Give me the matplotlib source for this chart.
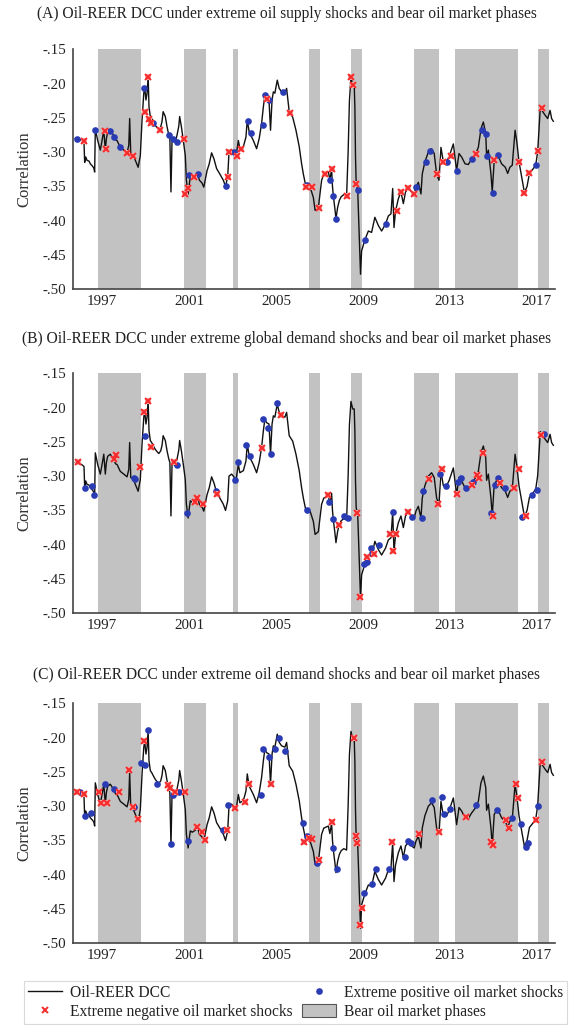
import matplotlib
matplotlib.use("Agg")
import matplotlib.pyplot as plt
from matplotlib.lines import Line2D
from matplotlib.patches import Patch

plt.rcParams['font.family'] = ['Liberation Serif', 'DejaVu Serif']

# ---------------- data ----------------
dcc_year = [
    1995.77, 1996.00, 1996.10, 1996.17, 1996.20, 1996.25, 1996.31, 1996.40, 1996.46, 1996.55,
    1996.62, 1996.66, 1996.69, 1996.75, 1996.80, 1996.92, 1997.00, 1997.08, 1997.12, 1997.15,
    1997.20, 1997.26, 1997.38, 1997.46, 1997.54, 1997.62, 1997.69, 1997.84, 1998.00, 1998.15,
    1998.23, 1998.27, 1998.32, 1998.43, 1998.53, 1998.66, 1998.76, 1998.84, 1998.92, 1998.96,
    1999.02, 1999.07, 1999.12, 1999.16, 1999.22, 1999.30, 1999.38, 1999.45, 1999.55, 1999.61,
    1999.70, 1999.76, 1999.81, 1999.91, 1999.99, 2000.07, 2000.12, 2000.17, 2000.22, 2000.30,
    2000.37, 2000.45, 2000.53, 2000.57, 2000.65, 2000.73, 2000.83, 2000.88, 2000.96, 2001.00,
    2001.06, 2001.15, 2001.25, 2001.40, 2001.48, 2001.60, 2001.68, 2001.75, 2001.83, 2001.93,
    2002.04, 2002.15, 2002.27, 2002.42, 2002.58, 2002.68, 2002.78, 2002.84, 2002.96, 2003.04,
    2003.16, 2003.27, 2003.34, 2003.50, 2003.62, 2003.68, 2003.77, 2003.96, 2004.11, 2004.23,
    2004.34, 2004.42, 2004.49, 2004.57, 2004.68, 2004.75, 2004.82, 2004.88, 2004.95, 2005.06,
    2005.15, 2005.26, 2005.41, 2005.49, 2005.61, 2005.77, 2005.92, 2006.07, 2006.18, 2006.26,
    2006.37, 2006.57, 2006.72, 2006.80, 2006.95, 2007.10, 2007.20, 2007.41, 2007.48, 2007.56,
    2007.60, 2007.64, 2007.72, 2007.76, 2007.84, 2007.92, 2008.00, 2008.12, 2008.25, 2008.32,
    2008.38, 2008.45, 2008.53, 2008.60, 2008.63, 2008.66, 2008.69, 2008.76, 2008.82, 2008.86,
    2008.89, 2008.94, 2009.09, 2009.25, 2009.40, 2009.55, 2009.71, 2009.86, 2010.04, 2010.17,
    2010.29, 2010.37, 2010.43, 2010.50, 2010.63, 2010.75, 2010.86, 2010.96, 2011.09, 2011.24,
    2011.36, 2011.44, 2011.55, 2011.67, 2011.73, 2011.85, 2012.01, 2012.16, 2012.28, 2012.39,
    2012.50, 2012.59, 2012.70, 2012.85, 2012.97, 2013.16, 2013.31, 2013.42, 2013.54, 2013.70,
    2013.85, 2014.00, 2014.19, 2014.31, 2014.43, 2014.54, 2014.65, 2014.69, 2014.77, 2014.89,
    2014.95, 2015.04, 2015.20, 2015.38, 2015.55, 2015.66, 2015.76, 2015.87, 2016.00, 2016.08,
    2016.18, 2016.30, 2016.43, 2016.55, 2016.66, 2016.79, 2016.95, 2017.04, 2017.10, 2017.16,
    2017.25, 2017.38, 2017.50, 2017.61, 2017.68, 2017.76]
dcc_value = [
    -0.280, -0.282, -0.284, -0.286, -0.315, -0.307, -0.312, -0.313, -0.317, -0.320,
    -0.323, -0.329, -0.266, -0.275, -0.283, -0.297, -0.283, -0.268, -0.285, -0.297,
    -0.280, -0.271, -0.268, -0.272, -0.276, -0.282, -0.283, -0.293, -0.297, -0.301,
    -0.290, -0.251, -0.302, -0.304, -0.312, -0.322, -0.305, -0.253, -0.214, -0.205,
    -0.224, -0.214, -0.190, -0.234, -0.248, -0.252, -0.257, -0.261, -0.265, -0.267,
    -0.263, -0.255, -0.241, -0.248, -0.263, -0.275, -0.280, -0.358, -0.281, -0.283,
    -0.285, -0.275, -0.262, -0.248, -0.263, -0.281, -0.305, -0.341, -0.361, -0.350,
    -0.336, -0.338, -0.336, -0.332, -0.341, -0.345, -0.351, -0.340, -0.327, -0.317,
    -0.301, -0.310, -0.324, -0.332, -0.341, -0.350, -0.336, -0.300, -0.297, -0.300,
    -0.306, -0.283, -0.295, -0.292, -0.278, -0.253, -0.271, -0.283, -0.295, -0.280,
    -0.258, -0.234, -0.217, -0.222, -0.224, -0.268, -0.224, -0.212, -0.214, -0.195,
    -0.207, -0.212, -0.214, -0.207, -0.241, -0.249, -0.268, -0.292, -0.317, -0.332,
    -0.349, -0.351, -0.366, -0.385, -0.381, -0.341, -0.332, -0.329, -0.340, -0.325,
    -0.350, -0.364, -0.385, -0.397, -0.380, -0.370, -0.365, -0.362, -0.364, -0.300,
    -0.225, -0.191, -0.202, -0.202, -0.234, -0.307, -0.346, -0.355, -0.410, -0.449,
    -0.478, -0.444, -0.428, -0.415, -0.417, -0.395, -0.407, -0.415, -0.405, -0.393,
    -0.390, -0.353, -0.410, -0.386, -0.368, -0.358, -0.375, -0.358, -0.353, -0.358,
    -0.361, -0.351, -0.344, -0.361, -0.332, -0.314, -0.300, -0.295, -0.302, -0.332,
    -0.341, -0.293, -0.314, -0.314, -0.306, -0.288, -0.327, -0.302, -0.307, -0.317,
    -0.318, -0.310, -0.302, -0.293, -0.266, -0.256, -0.273, -0.306, -0.297, -0.332,
    -0.358, -0.312, -0.304, -0.317, -0.322, -0.331, -0.322, -0.319, -0.268, -0.285,
    -0.314, -0.336, -0.359, -0.350, -0.331, -0.326, -0.319, -0.299, -0.268, -0.235,
    -0.240, -0.246, -0.251, -0.239, -0.251, -0.255]

bear_start = [1996.82, 2000.79, 2003.04, 2006.50, 2008.47, 2011.37, 2013.22, 2017.06]
bear_end = [1998.81, 2001.77, 2003.24, 2007.02, 2008.94, 2012.51, 2016.15, 2017.55]

# Panel A: extreme oil supply shocks
posA_x = [1995.87, 1996.69, 1997.38, 1997.57, 1997.82, 1998.92, 1999.35, 2000.07, 2000.27, 2000.45,
          2000.99, 2001.40, 2002.68, 2003.06, 2003.70, 2003.87, 2004.39, 2004.51, 2004.67, 2005.31,
          2006.41, 2007.48, 2007.64, 2007.76, 2008.76, 2009.09, 2010.04, 2011.44, 2011.88, 2012.08,
          2012.85, 2013.31, 2014.00, 2014.49, 2014.66, 2014.71, 2015.00, 2015.20, 2016.95]
posA_y = [-0.281, -0.267, -0.269, -0.278, -0.292, -0.207, -0.257, -0.275, -0.281, -0.285,
          -0.334, -0.332, -0.350, -0.300, -0.254, -0.272, -0.260, -0.217, -0.224, -0.213,
          -0.348, -0.340, -0.364, -0.397, -0.355, -0.428, -0.405, -0.351, -0.314, -0.299,
          -0.314, -0.327, -0.310, -0.267, -0.274, -0.306, -0.359, -0.304, -0.319]
negA_x = [1996.16, 1997.15, 1997.20, 1998.15, 1998.41, 1998.99, 1999.12, 1999.18, 1999.25, 1999.65,
          2000.79, 2000.83, 2000.94, 2001.25, 2002.78, 2002.84, 2003.19, 2003.37, 2004.59, 2005.66,
          2006.37, 2006.64, 2006.98, 2007.25, 2007.59, 2008.25, 2008.45, 2008.55, 2008.69, 2010.55,
          2010.75, 2011.09, 2011.36, 2012.39, 2012.70, 2013.04, 2014.19, 2015.04, 2016.18, 2016.43,
          2016.66, 2017.04, 2017.22]
negA_y = [-0.284, -0.269, -0.296, -0.301, -0.305, -0.241, -0.190, -0.251, -0.258, -0.267,
          -0.281, -0.361, -0.353, -0.336, -0.336, -0.300, -0.306, -0.295, -0.223, -0.243,
          -0.351, -0.351, -0.381, -0.332, -0.325, -0.364, -0.191, -0.202, -0.346, -0.386,
          -0.358, -0.353, -0.361, -0.332, -0.314, -0.306, -0.302, -0.312, -0.314, -0.359,
          -0.331, -0.299, -0.235]

# Panel B: extreme global demand shocks
posB_x = [1996.20, 1996.54, 1996.65, 1998.46, 1998.53, 1998.96, 2000.45, 2000.91, 2002.25, 2003.13,
          2003.27, 2003.63, 2003.81, 2004.42, 2004.65, 2004.77, 2005.05, 2006.44, 2007.45, 2007.64,
          2008.13, 2008.33, 2009.06, 2009.17, 2009.37, 2009.40, 2009.75, 2010.37, 2011.24, 2011.73,
          2011.75, 2012.55, 2012.82, 2013.39, 2013.50, 2013.73, 2014.05, 2014.88, 2015.08, 2015.23,
          2015.54, 2016.34, 2016.80, 2017.00, 2017.32]
posB_y = [-0.318, -0.315, -0.327, -0.303, -0.304, -0.241, -0.284, -0.353, -0.322, -0.305,
          -0.279, -0.255, -0.271, -0.217, -0.230, -0.268, -0.194, -0.350, -0.338, -0.363,
          -0.358, -0.361, -0.428, -0.425, -0.405, -0.412, -0.400, -0.352, -0.359, -0.361,
          -0.321, -0.297, -0.314, -0.309, -0.303, -0.318, -0.309, -0.354, -0.313, -0.303,
          -0.318, -0.360, -0.328, -0.320, -0.238]
negB_x = [1995.88, 1997.54, 1997.64, 1998.76, 1998.95, 1999.10, 1999.27, 2000.30, 2001.26, 2001.37,
          2001.63, 2002.28, 2004.35, 2005.24, 2007.41, 2007.90, 2008.74, 2008.86, 2009.20, 2009.52,
          2010.24, 2010.40, 2010.52, 2011.06, 2012.04, 2012.47, 2012.65, 2013.31, 2014.03, 2014.23,
          2014.36, 2014.51, 2015.00, 2015.30, 2015.95, 2016.16, 2016.49, 2017.20]
negB_y = [-0.280, -0.275, -0.269, -0.286, -0.206, -0.190, -0.257, -0.280, -0.337, -0.332,
          -0.341, -0.326, -0.259, -0.211, -0.327, -0.371, -0.354, -0.476, -0.418, -0.414,
          -0.385, -0.409, -0.385, -0.352, -0.304, -0.340, -0.290, -0.326, -0.313, -0.299,
          -0.302, -0.266, -0.358, -0.310, -0.318, -0.289, -0.358, -0.240]

# Panel C: extreme oil demand shocks
posC_x = [1995.97, 1996.20, 1996.51, 1997.15, 1997.54, 1998.46, 1998.81, 1998.99, 1999.12, 1999.53,
          2000.19, 2000.27, 2000.53, 2000.94, 2002.55, 2002.78, 2004.29, 2004.41, 2004.68, 2004.94,
          2005.12, 2005.40, 2006.26, 2006.44, 2006.90, 2007.64, 2007.79, 2009.05, 2009.43, 2009.58,
          2010.20, 2010.93, 2011.09, 2011.20, 2012.19, 2012.62, 2012.74, 2013.00, 2014.19, 2015.15,
          2015.87, 2016.29, 2016.49, 2016.58, 2017.05]
posC_y = [-0.280, -0.315, -0.310, -0.267, -0.275, -0.301, -0.237, -0.240, -0.189, -0.268,
          -0.355, -0.284, -0.279, -0.351, -0.335, -0.298, -0.284, -0.216, -0.229, -0.216,
          -0.201, -0.220, -0.325, -0.343, -0.383, -0.361, -0.391, -0.427, -0.413, -0.392,
          -0.391, -0.374, -0.351, -0.354, -0.291, -0.286, -0.311, -0.304, -0.299, -0.305,
          -0.317, -0.326, -0.359, -0.353, -0.300]
negC_x = [1995.85, 1996.16, 1996.88, 1996.97, 1997.23, 1997.77, 1998.26, 1998.43, 1998.66, 1998.95,
          2000.04, 2000.14, 2000.34, 2000.80, 2001.37, 2001.60, 2001.72, 2002.75, 2003.12, 2003.59,
          2003.78, 2004.77, 2006.29, 2006.52, 2006.67, 2006.98, 2007.59, 2008.60, 2008.68, 2008.74,
          2008.86, 2008.94, 2010.35, 2011.59, 2012.50, 2013.73, 2014.88, 2015.00, 2015.58, 2015.70,
          2016.04, 2016.12, 2016.97, 2017.22]
negC_y = [-0.279, -0.282, -0.279, -0.296, -0.295, -0.280, -0.247, -0.301, -0.319, -0.205,
          -0.269, -0.273, -0.280, -0.279, -0.330, -0.338, -0.349, -0.335, -0.302, -0.294,
          -0.267, -0.268, -0.352, -0.347, -0.348, -0.379, -0.323, -0.201, -0.343, -0.353,
          -0.473, -0.448, -0.352, -0.341, -0.337, -0.316, -0.352, -0.356, -0.320, -0.332,
          -0.268, -0.288, -0.320, -0.236]

titles = [
    "(A) Oil-REER DCC under extreme oil supply shocks and bear oil market phases",
    "(B) Oil-REER DCC under extreme global demand shocks and bear oil market phases",
    "(C) Oil-REER DCC under extreme oil demand shocks and bear oil market phases",
]
x_ticks = [1997, 2001, 2005, 2009, 2013, 2017]
y_ticks = [-0.50, -0.45, -0.40, -0.35, -0.30, -0.25, -0.20, -0.15]
y_tick_labels = ["-.50", "-.45", "-.40", "-.35", "-.30", "-.25", "-.20", "-.15"]
legend_labels = ["Oil-REER DCC", "Extreme negative oil market shocks",
                 "Extreme positive oil market shocks", "Bear oil market phases"]

# ---------------- style ----------------
W, H = 573, 1026
fig = plt.figure(figsize=(W / 100, H / 100), dpi=100)
fig.patch.set_facecolor('white')

BLUE = '#2a3cb4'
RED = '#f52a2a'
SHADE = '#c2c2c2'
TXT = '#222222'

panel_tops = [49.3, 373.3, 703.3]
ax_h = 240.0
ax_left = 72.7
ax_right = 555.3
title_y = [14, 339, 675]
xlim = (1995.65, 2017.85)

markers = [(posA_x, posA_y, negA_x, negA_y),
           (posB_x, posB_y, negB_x, negB_y),
           (posC_x, posC_y, negC_x, negC_y)]

for i in range(3):
    top = panel_tops[i]
    ax = fig.add_axes([ax_left / W, 1 - (top + ax_h) / H, (ax_right - ax_left) / W, ax_h / H])
    for s, e in zip(bear_start, bear_end):
        ax.axvspan(s, e, color=SHADE, lw=0, zorder=0)
    ax.plot(dcc_year, dcc_value, color='#111111', lw=1.0, zorder=2)
    px, py, nx, ny = markers[i]
    ax.plot(px, py, 'o', color=BLUE, ms=4.8, mew=0, zorder=3)
    ax.plot(nx, ny, 's', color='#f7a3a3', ms=4.4, mew=0, zorder=3)
    ax.plot(nx, ny, 'x', color=RED, ms=3.8, mew=1.4, zorder=4)
    ax.set_xlim(*xlim)
    ax.set_ylim(-0.50, -0.15)
    ax.set_xticks(x_ticks)
    ax.set_xticklabels([str(t) for t in x_ticks])
    ax.set_yticks(y_ticks)
    ax.set_yticklabels(y_tick_labels)
    ax.tick_params(axis='both', length=0, labelsize=10.8, colors=TXT)
    ax.tick_params(axis='y', pad=5)
    ax.tick_params(axis='x', pad=4)
    for sp in ['top', 'right']:
        ax.spines[sp].set_visible(False)
    for sp in ['left', 'bottom']:
        ax.spines[sp].set_color('#444444')
        ax.spines[sp].set_linewidth(1.2)
    ax.set_ylabel("Correlation", fontsize=12, color='#333333', labelpad=7)
    fig.text(0.5, 1 - title_y[i] / H, titles[i], ha='center', va='center',
             fontsize=11.2, color=TXT)

handles = [
    Line2D([], [], color='#111111', lw=1.0),
    Line2D([], [], marker='x', color=RED, ls='none', ms=4, mew=1.4),
    Line2D([], [], marker='o', color=BLUE, ls='none', ms=4.8, mew=0),
    Patch(facecolor=SHADE, edgecolor='#555555', lw=0.8),
]
leg = fig.legend(handles, legend_labels, ncol=2, loc='lower left',
                 bbox_to_anchor=(24 / W, 1 - 1024 / H), frameon=True, fancybox=False,
                 edgecolor='#d0d0d0', fontsize=11.2, handlelength=2.2, handleheight=0.9,
                 columnspacing=0.6, handletextpad=0.5, labelspacing=0.2,
                 borderpad=0.25, borderaxespad=0)
leg.get_frame().set_linewidth(0.8)
for t in leg.get_texts():
    t.set_color(TXT)

fig.savefig("out.png", dpi=100, facecolor='white')
